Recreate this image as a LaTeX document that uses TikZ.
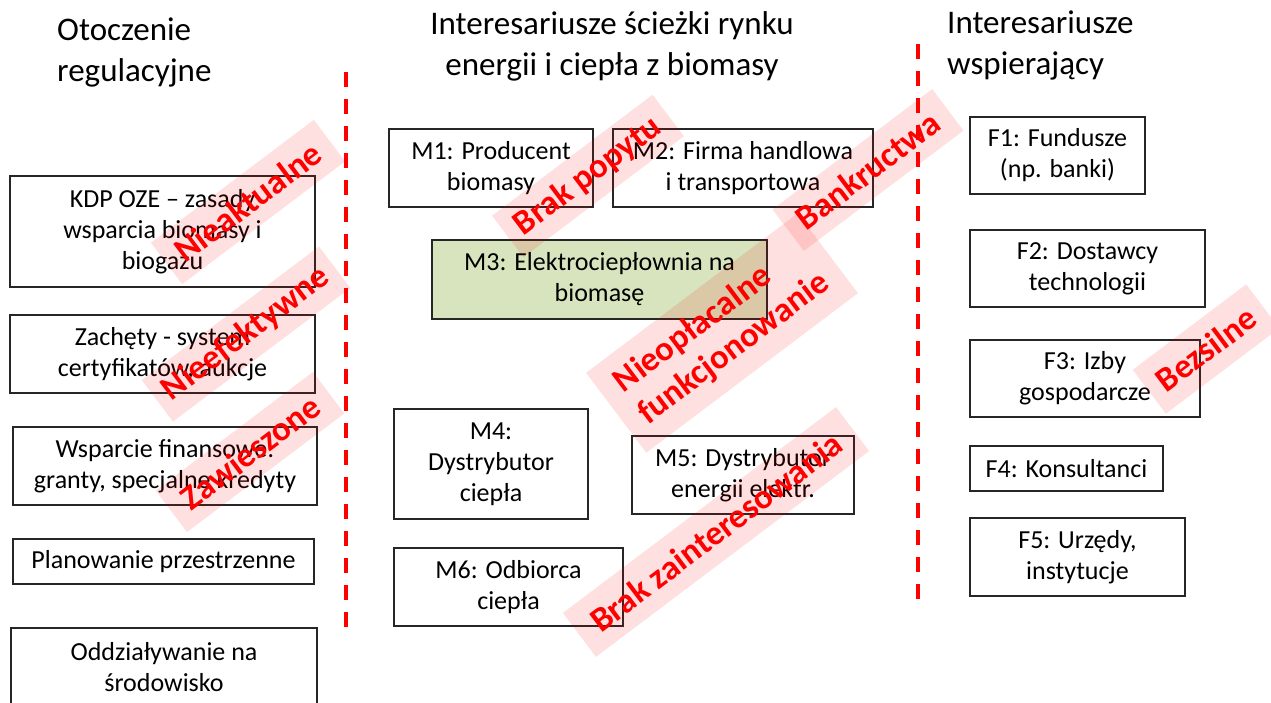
\documentclass[tikz,border=0pt]{standalone}
\usepackage{fontspec}
\setmainfont{Carlito}
\usepackage{tikz}
\usetikzlibrary{positioning}
\definecolor{CellGreen}{HTML}{D7E4BD}
\definecolor{FrameGray}{HTML}{262626}
\newcommand{\boxfont}{\fontsize{26}{31}\selectfont}
\newcommand{\headfont}{\fontsize{33}{41}\selectfont}
\newcommand{\tagfont}{\fontsize{34.5}{40}\selectfont\bfseries}

\begin{document}
\begin{tikzpicture}[x=1pt, y=-1pt,
  every node/.style={font=\boxfont},
  bx/.style 2 args={draw=FrameGray, line width=1.2pt, inner sep=0pt,
             align=center, minimum width=#1, minimum height=#2},
  head/.style={font=\headfont, inner sep=0pt},
  tag/.style 2 args={fill=red, fill opacity=0.12, text opacity=1, text=red,
             font=\tagfont, rotate=37, inner sep=0pt, align=center,
             minimum width=#1, minimum height=#2},
  divider/.style={red, line width=4pt, dash pattern=on 15pt off 12pt}]
  \useasboundingbox (0,0) rectangle (1271,702);
  \clip (0,0) rectangle (1271,702);
  % headers
  \node[head, anchor=base west, align=left] (hreg) at (57,81)
    {Otoczenie\\regulacyjne};
  \node[head, anchor=base, align=center] (hmkt) at (612,75)
    {Interesariusze ścieżki rynku\\energii i ciepła z biomasy};
  \node[head, anchor=base west, align=left] (hsup) at (947,74)
    {Interesariusze\\wspierający};
  % column dividers
  \coordinate (d1a) at (346,72);
  \coordinate (d1b) at (346,630);
  \coordinate (d2a) at (918,44);
  \coordinate (d2b) at (918,602);
  \draw[divider] (d1a) -- (d1b);
  \draw[divider] (d2a) -- (d2b);
  % regulatory environment
  \node[bx={305}{111}] (kdp)  at (162.5,231.5) {KDP OZE -- zasady\\wsparcia biomasy i\\biogazu};
  \node[bx={305}{78}]  (zach) at (162.5,354) {Zachęty - system\\certyfikatów, aukcje};
  \node[bx={304}{78}]  (wsp)  at (165,466) {Wsparcie finansowe:\\granty, specjalne kredyty};
  \node[bx={301}{45}]  (plan) at (163.5,561.5) {Planowanie przestrzenne};
  \node[bx={306}{78}]  (odd)  at (164,667) {Oddziaływanie na\\środowisko};
  % market path
  \node[bx={204}{78}] (m1) at (491,168) {M1: Producent\\biomasy};
  \node[bx={260}{78}] (m2) at (743,168) {M2: Firma handlowa\\i transportowa};
  \node[bx={335}{79}, fill=CellGreen] (m3) at (599.5,279.5) {M3: Elektrociepłownia na\\biomasę};
  \node[bx={194}{110}] (m4) at (491,464) {M4:\\Dystrybutor\\ciepła};
  \node[bx={222}{78}] (m5) at (743,475) {M5: Dystrybutor\\energii elektr.};
  \node[bx={229}{78}] (m6) at (508.5,587) {M6: Odbiorca\\ciepła};
  % supporting stakeholders
  \node[bx={175}{77}] (f1) at (1057.5,155.5) {F1: Fundusze\\(np. banki)};
  \node[bx={235}{77}] (f2) at (1087.5,268.5) {F2: Dostawcy\\technologii};
  \node[bx={230}{77}] (f3) at (1085,378.5) {F3: Izby\\gospodarcze};
  \node[bx={193}{45}] (f4) at (1066.5,468.5) {F4: Konsultanci};
  \node[bx={215}{78}] (f5) at (1077.5,557) {F5: Urzędy,\\instytucje};
  % problem tags
  \node[tag={204}{52}] (t1) at (248,202) {Nieaktualne};
  \node[tag={222}{52}] (t2) at (246,334) {Nieefektywne};
  \node[tag={197}{52}] (t3) at (250,452) {Zawieszone};
  \node[tag={201}{52}] (t4) at (588,176) {Brak popytu};
  \node[tag={200}{52}] (t5) at (868,170) {Bankructwa};
  \node[tag={265}{100}, align=left] (t6) at (722,333) {Nieopłacalne\\funkcjonowanie};
  \node[tag={342}{55}] (t7) at (716,532) {Brak zainteresowania};
  \node[tag={142}{55}] (t8) at (1206,349) {Bezsilne};
\end{tikzpicture}
\end{document}
